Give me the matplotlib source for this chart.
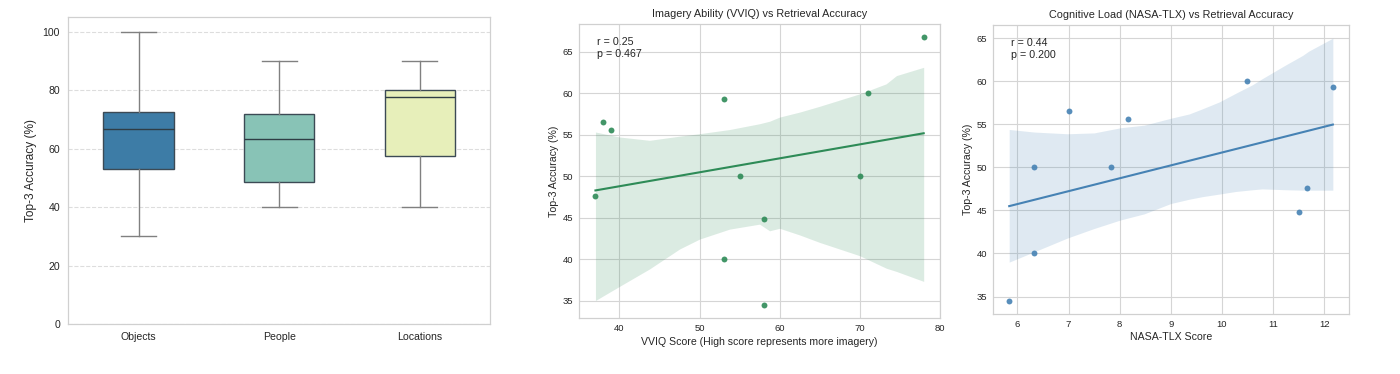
import numpy as np
import matplotlib
matplotlib.use('Agg')
import matplotlib.pyplot as plt

plt.rcParams['font.family'] = ['Liberation Sans', 'DejaVu Sans']
plt.rcParams['text.color'] = '#262626'
plt.rcParams['axes.labelcolor'] = '#262626'
plt.rcParams['xtick.color'] = '#262626'
plt.rcParams['ytick.color'] = '#262626'

# --- box plot: top-3 accuracy per category (stats)
categories = ['Objects', 'People', 'Locations']
whislo = [30, 40, 40]
q1 = [52.9, 48.7, 57.6]
med = [66.7, 63.3, 77.8]
q3 = [72.6, 71.9, 80.0]
whishi = [100, 90, 90]
box_colors = ['#3d7ca6', '#88c3b6', '#e7efba']

# --- VVIQ vs accuracy
vviq = [37, 38, 39, 53, 55, 53, 58, 58, 70, 71, 78]
vviq_acc = [47.6, 56.5, 55.6, 59.3, 50.0, 40.0, 44.8, 34.5, 50.0, 60.0, 66.7]
vviq_r, vviq_p = 0.25, 0.467
# bootstrap CI band edges
vviq_band_x = [37, 40, 43.75, 47.5, 50, 53.75, 57.5, 58.75, 60, 62.5, 65, 70, 73.3, 74.6, 78]
vviq_band_hi = [55.3, 54.7, 54.3, 54.8, 55.1, 55.6, 56.3, 56.6, 57.1, 57.7, 58.4, 59.9, 61.1, 62.1, 63.1]
vviq_band_lo = [35.0, 36.7, 38.8, 41.2, 42.4, 43.6, 44.2, 43.4, 43.7, 42.9, 42.0, 40.4, 38.9, 38.5, 37.3]

# --- NASA-TLX vs accuracy
tlx = [5.84, 6.33, 6.33, 7.0, 7.84, 8.17, 10.5, 11.5, 11.67, 12.17]
tlx_acc = [34.5, 50.0, 40.0, 56.5, 50.0, 55.6, 60.0, 44.8, 47.6, 59.3]
tlx_r, tlx_p = 0.44, 0.200
tlx_band_x = [5.84, 6.33, 6.98, 7.5, 8.02, 8.48, 9.0, 9.36, 9.62, 9.95, 10.27, 10.6, 10.79, 11.25, 11.58, 11.7, 12.17]
tlx_band_hi = [54.4, 54.1, 53.9, 54.0, 54.6, 54.9, 55.7, 56.2, 56.8, 57.6, 58.6, 59.6, 60.3, 61.9, 63.0, 63.5, 65.0]
tlx_band_lo = [39.0, 40.2, 41.8, 42.9, 43.9, 44.6, 45.8, 46.3, 46.6, 46.9, 47.2, 47.4, 47.5, 47.4, 47.35, 47.35, 47.35]


def style_grid_axes(ax):
    ax.grid(True, color='#d5d5d5', linewidth=0.8)
    ax.set_axisbelow(True)
    for s in ax.spines.values():
        s.set_color('#d0d0d0')
        s.set_linewidth(0.9)
    ax.tick_params(length=0, labelsize=6.8, pad=4)


def reg_panel(ax, x, y, band_x, lo, hi, color, r, p, title, xlabel, xpad):
    x = np.array(x)
    y = np.array(y)
    ax.fill_between(band_x, lo, hi, color=color, alpha=0.17, linewidth=0)
    slope, icpt = np.polyfit(x, y, 1)
    xs = np.array([x.min(), x.max()])
    ax.plot(xs, slope * xs + icpt, color=color, linewidth=1.5)
    ax.scatter(x, y, s=18, color=color, alpha=0.9, linewidths=0, zorder=3)
    ax.text(0.05, 0.955, 'r = %.2f\np = %.3f' % (r, p), transform=ax.transAxes,
            va='top', ha='left', fontsize=7.7, linespacing=1.2)
    ax.set_title(title, fontsize=7.8, pad=5)
    ax.set_xlabel(xlabel, fontsize=7.6, labelpad=xpad)
    ax.set_ylabel('Top-3 Accuracy (%)', fontsize=7.6, labelpad=3)
    style_grid_axes(ax)


fig = plt.figure(figsize=(14, 3.74), dpi=100)

# left: box plot
ax1 = fig.add_axes([0.0488, 0.1337, 0.3012, 0.820])
stats = []
for i in range(len(categories)):
    stats.append(dict(whislo=whislo[i], q1=q1[i], med=med[i], q3=q3[i],
                      whishi=whishi[i], fliers=[], label=categories[i]))
bp = ax1.bxp(stats, positions=range(len(categories)), widths=0.5,
             patch_artist=True, showfliers=False,
             boxprops=dict(edgecolor='#3c4a55', linewidth=1.0),
             medianprops=dict(color='#2f3d45', linewidth=1.0),
             whiskerprops=dict(color='#808080', linewidth=1.0),
             capprops=dict(color='#808080', linewidth=1.0))
for patch, c in zip(bp['boxes'], box_colors):
    patch.set_facecolor(c)
ax1.set_xlim(-0.5, 2.5)
ax1.set_ylim(0, 105)
ax1.set_yticks([0, 20, 40, 60, 80, 100])
ax1.yaxis.grid(True, linestyle='--', color='#dddddd', linewidth=0.8)
ax1.set_axisbelow(True)
for s in ax1.spines.values():
    s.set_color('#d0d0d0')
    s.set_linewidth(0.9)
ax1.tick_params(length=0, labelsize=7.6, pad=6)
ax1.set_ylabel('Top-3 Accuracy (%)', fontsize=8.6, labelpad=4)

# middle: VVIQ
ax2 = fig.add_axes([0.4136, 0.1497, 0.2579, 0.786])
reg_panel(ax2, vviq, vviq_acc, vviq_band_x, vviq_band_lo, vviq_band_hi,
          'seagreen', vviq_r, vviq_p,
          'Imagery Ability (VVIQ) vs Retrieval Accuracy',
          'VVIQ Score (High score represents more imagery)', 3)
ax2.set_xticks([40, 50, 60, 70, 80])

# right: NASA-TLX
ax3 = fig.add_axes([0.7093, 0.1604, 0.2543, 0.7727])
reg_panel(ax3, tlx, tlx_acc, tlx_band_x, tlx_band_lo, tlx_band_hi,
          'steelblue', tlx_r, tlx_p,
          'Cognitive Load (NASA-TLX) vs Retrieval Accuracy',
          'NASA-TLX Score', 2.5)

fig.savefig('out.png', dpi=100)
